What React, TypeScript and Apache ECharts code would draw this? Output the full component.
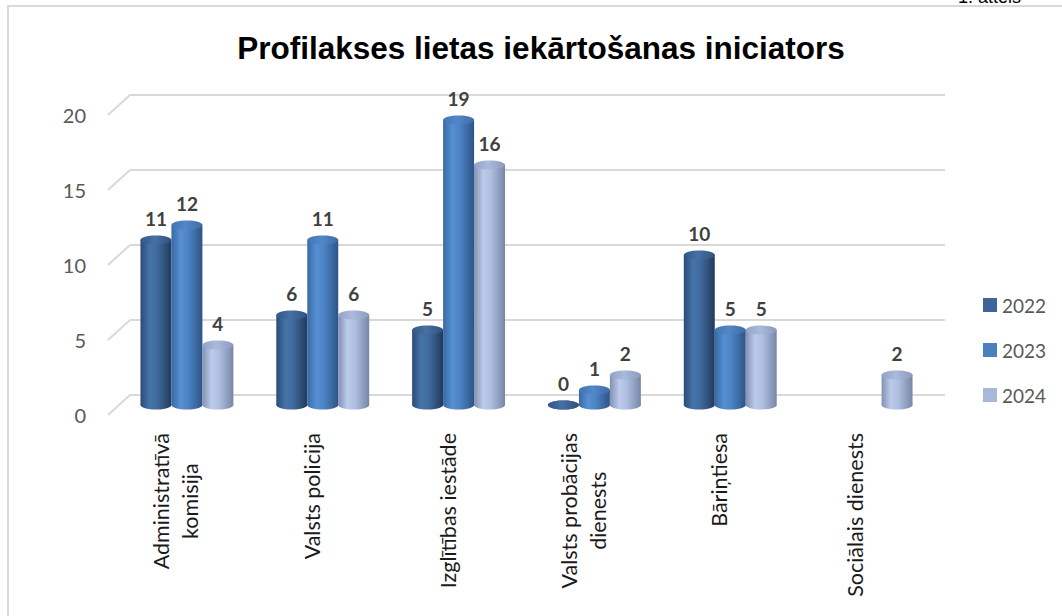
import React, { useEffect, useRef } from 'react';
import * as echarts from 'echarts';

const categories = [
  'Administratīvā\nkomisija',
  'Valsts policija',
  'Izglītības iestāde',
  'Valsts probācijas\ndienests',
  'Bāriņtiesa',
  'Sociālais dienests',
];
const years = ['2022', '2023', '2024'];
const values2022: (number | null)[] = [11, 6, 5, 0, 10, null];
const values2023: (number | null)[] = [12, 11, 19, 1, 5, null];
const values2024: (number | null)[] = [4, 6, 16, 2, 5, 2];
const yTicks = [0, 5, 10, 15, 20];
const yMin = 0;
const yMax = 20;
const yInterval = 5;
const titleText = 'Profilakses lietas iekārtošanas iniciators';
const figureText = '1. attēls';

const seriesValues = [values2022, values2023, values2024];

const palettes = [
  {
    legend: '#3E6498',
    body: ['#2C4B78', '#4674A9', '#3F699C', '#223A5C'],
    top: ['#33578A', '#4770A3', '#2F5181'],
  },
  {
    legend: '#4B7FC0',
    body: ['#3A69A3', '#5690D4', '#4C82C3', '#2E5486'],
    top: ['#4475B3', '#5287C8', '#3E6CA6'],
  },
  {
    legend: '#A8B8DA',
    body: ['#8291B3', '#BCCBEA', '#AEBEE0', '#7886A6'],
    top: ['#93A3C6', '#AABADC', '#8C9BBD'],
  },
];

// layout (style) constants
const W = 1062;
const H = 616;
const BACK = { left: 130, right: W - 945, top: 95, height: 300 };
const DX = 11;
const DY = 10;
const MID = { left: BACK.left - DX, right: BACK.right + DX, top: BACK.top + DY, height: BACK.height };
const FRONT = { left: BACK.left - 2 * DX, right: BACK.right + 2 * DX, top: BACK.top + 2 * DY, height: BACK.height };

const FONT = 'Lato';

function grad(stops: string[]) {
  return new echarts.graphic.LinearGradient(
    0, 0, 1, 0,
    stops.map((c, i) => ({ offset: stops.length === 4 ? [0, 0.3, 0.55, 1][i] : [0, 0.45, 1][i], color: c }))
  );
}

export default function App() {
  const ref = useRef<HTMLDivElement>(null);

  useEffect(() => {
    if (!ref.current) return;
    const chart = echarts.init(ref.current, undefined, { renderer: 'svg' });

    const barSeries = seriesValues.map((vals, k) => ({
      type: 'custom',
      name: years[k],
      xAxisIndex: 1,
      yAxisIndex: 1,
      itemStyle: { color: palettes[k].legend },
      encode: { x: 0, y: 1 },
      data: vals
        .map((v, i) => (v === null ? null : [i, v]))
        .filter((d) => d !== null),
      renderItem: (params: any, api: any) => {
        const ci = api.value(0);
        const v = api.value(1);
        const base = api.coord([ci, 0]);
        const top = api.coord([ci, v]);
        const band = api.size([1, 0])[0];
        const w = band * 0.228;
        const cx = base[0] + (k - 1) * w;
        const ry = 4.5;
        const pal = palettes[k];
        const children: any[] = [
          {
            type: 'ellipse',
            shape: { cx, cy: base[1], rx: w / 2, ry },
            style: { fill: grad(pal.body) },
          },
        ];
        if (base[1] - top[1] > 0.5) {
          children.push({
            type: 'rect',
            shape: { x: cx - w / 2, y: top[1], width: w, height: base[1] - top[1] },
            style: { fill: grad(pal.body) },
          });
        }
        children.push({
          type: 'ellipse',
          shape: { cx, cy: top[1], rx: w / 2, ry },
          style: { fill: grad(pal.top) },
        });
        children.push({
          type: 'text',
          style: {
            text: String(v),
            x: cx,
            y: top[1] - 12,
            align: 'center',
            verticalAlign: 'bottom',
            fontFamily: FONT,
            fontWeight: 'bold',
            fontSize: 19,
            fill: '#404040',
          },
        });
        return { type: 'group', children };
      },
    }));

    const diagSeries = {
      type: 'custom',
      name: 'diag',
      xAxisIndex: 2,
      yAxisIndex: 2,
      silent: true,
      encode: { x: 0, y: 1 },
      data: yTicks.map((v) => [0, v]),
      renderItem: (params: any, api: any) => {
        const p = api.coord([api.value(0), api.value(1)]);
        const band = api.size([1, 0])[0];
        const x0 = p[0] - band / 2;
        return {
          type: 'line',
          shape: { x1: x0, y1: p[1], x2: x0 + 2 * DX, y2: p[1] - 2 * DY },
          style: { stroke: '#D9D9D9', lineWidth: 2 },
        };
      },
    };

    const hiddenX = (gi: number) => ({
      gridIndex: gi,
      type: 'category',
      data: categories,
      axisLine: { show: false },
      axisTick: { show: false },
      axisLabel: { show: false },
      splitLine: { show: false },
    });

    const option: any = {
      animation: false,
      backgroundColor: '#FFFFFF',
      grid: [
        { left: BACK.left, right: BACK.right, top: BACK.top, height: BACK.height },
        { left: MID.left, right: MID.right, top: MID.top, height: MID.height },
        { left: FRONT.left, right: FRONT.right, top: FRONT.top, height: FRONT.height },
      ],
      xAxis: [
        hiddenX(0),
        hiddenX(1),
        {
          gridIndex: 2,
          type: 'category',
          data: categories,
          axisLine: { show: false },
          axisTick: { show: false },
          splitLine: { show: false },
          axisLabel: {
            rotate: 90,
            margin: 18,
            interval: 0,
            formatter: (val: string) =>
              val
                .split('\n')
                .map((l) => `{c|${l}}`)
                .join('\n'),
            rich: {
              c: {
                align: 'center',
                fontFamily: FONT,
                fontSize: 21.5,
                color: '#1A1A1A',
                lineHeight: 29,
              },
            },
          },
        },
      ],
      yAxis: [
        {
          gridIndex: 0,
          type: 'value',
          min: yMin,
          max: yMax,
          interval: yInterval,
          axisLine: { show: false },
          axisTick: { show: false },
          axisLabel: { show: false },
          splitLine: { show: true, lineStyle: { color: '#D9D9D9', width: 2 } },
        },
        {
          gridIndex: 1,
          type: 'value',
          min: yMin,
          max: yMax,
          interval: yInterval,
          axisLine: { show: false },
          axisTick: { show: false },
          axisLabel: { show: false },
          splitLine: { show: false },
        },
        {
          gridIndex: 2,
          type: 'value',
          min: yMin,
          max: yMax,
          interval: yInterval,
          axisLine: { show: false },
          axisTick: { show: false },
          splitLine: { show: false },
          axisLabel: { margin: 22, fontFamily: FONT, fontSize: 20, color: '#595959' },
        },
      ],
      legend: {
        orient: 'vertical',
        left: 978,
        top: 290,
        itemWidth: 14,
        itemHeight: 14,
        itemGap: 25,
        icon: 'rect',
        data: years,
        textStyle: { fontFamily: FONT, fontSize: 19, color: '#595959', lineHeight: 20 },
      },
      graphic: [
        {
          type: 'rect',
          shape: { x: 8, y: 6, width: 1200, height: 800 },
          style: { fill: 'none', stroke: '#D9D9D9', lineWidth: 2 },
          silent: true,
        },
        {
          type: 'text',
          x: 1021,
          y: 6,
          style: {
            text: figureText,
            align: 'right',
            verticalAlign: 'bottom',
            fontFamily: 'Liberation Sans',
            fontSize: 18,
            fill: '#000000',
          },
        },
        {
          type: 'text',
          x: 541,
          y: 48,
          style: {
            text: titleText,
            align: 'center',
            verticalAlign: 'middle',
            fontFamily: 'Liberation Sans',
            fontWeight: 'bold',
            fontSize: 31.5,
            fill: '#000000',
          },
        },
      ],
      series: [diagSeries, ...barSeries],
    };

    chart.setOption(option);
    return () => chart.dispose();
  }, []);

  return (
    <div
      ref={ref}
      style={{ position: 'absolute', left: 0, top: 0, width: W, height: H, background: '#fff' }}
    />
  );
}
